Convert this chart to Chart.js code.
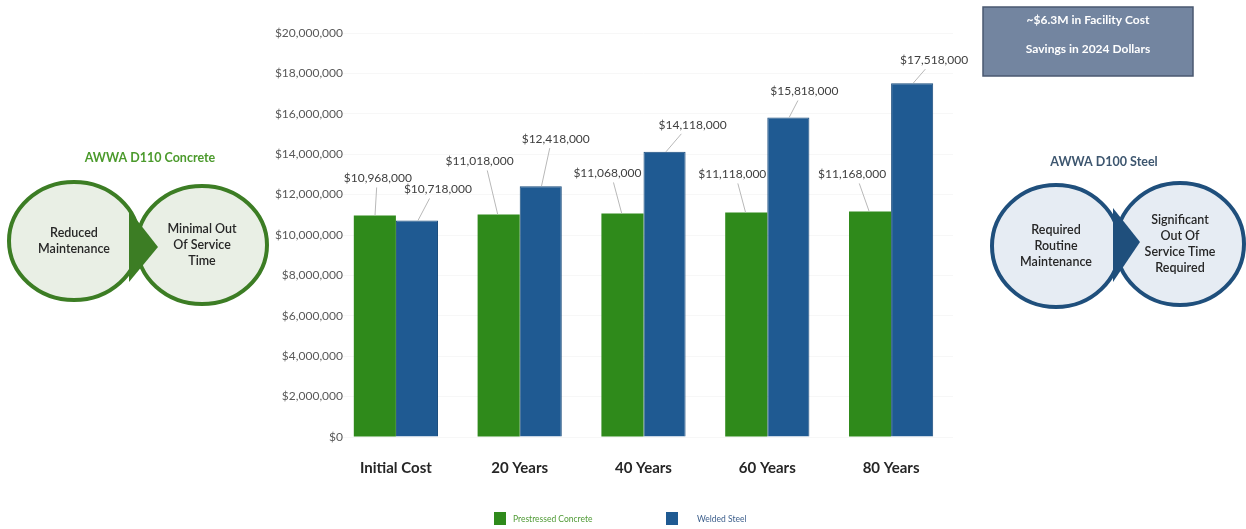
<!DOCTYPE html>
<html>
<head>
<meta charset="utf-8">
<script src="https://cdn.jsdelivr.net/npm/chart.js@4/dist/chart.umd.min.js"></script>
<style>
  html, body { margin: 0; padding: 0; background: #fff; }
  #wrap { width: 1246px; height: 529px; position: relative; }
</style>
</head>
<body>
<div id="wrap"><canvas id="costChart" width="1246" height="529"></canvas></div>
<script>
// chart data
var categories = ['Initial Cost', '20 Years', '40 Years', '60 Years', '80 Years'];
var seriesNames = ['Prestressed Concrete', 'Welded Steel'];
var concreteCost = [10968000, 11018000, 11068000, 11118000, 11168000];
var steelCost = [10718000, 12418000, 14118000, 15818000, 17518000];
var yMax = 20000000;
var yStep = 2000000;

// text around the chart
var savingsNote = ['~$6.3M in Facility Cost', 'Savings in 2024 Dollars'];
var concreteTitle = 'AWWA D110 Concrete';
var concreteBubbles = [['Reduced', 'Maintenance'], ['Minimal Out', 'Of Service', 'Time']];
var steelTitle = 'AWWA D100 Steel';
var steelBubbles = [['Required', 'Routine', 'Maintenance'], ['Significant', 'Out Of', 'Service Time', 'Required']];

// where each value label sits relative to the top of its bar (px)
var concreteLabelShift = [[3, -37], [-19, -53], [-15, -40], [-14, -38], [-18, -37]];
var steelLabelShift = [[21, -31], [15, -47], [28, -27], [16, -26], [22, -23]];

var GREEN = '#2f8a1b';
var BLUE = '#1f5a92';
var FONT = 'Lato, "Open Sans", sans-serif';

function money(v) {
    return '$' + Number(v).toLocaleString('en-US');
}

function drawBubbles(ctx, cfg) {
    ctx.save();
    cfg.centers.forEach(function (c, i) {
        ctx.beginPath();
        ctx.ellipse(c[0], c[1], cfg.rx, cfg.ry, 0, 0, Math.PI * 2);
        ctx.fillStyle = cfg.fill;
        ctx.fill();
        ctx.lineWidth = 4;
        ctx.strokeStyle = cfg.stroke;
        ctx.stroke();
    });
    // wedge between the two circles
    ctx.beginPath();
    ctx.moveTo(cfg.wedge[0][0], cfg.wedge[0][1]);
    ctx.lineTo(cfg.wedge[1][0], cfg.wedge[1][1]);
    ctx.lineTo(cfg.wedge[2][0], cfg.wedge[2][1]);
    ctx.closePath();
    ctx.fillStyle = cfg.stroke;
    ctx.fill();

    ctx.fillStyle = '#262626';
    ctx.font = '600 12.5px ' + FONT;
    ctx.textAlign = 'center';
    ctx.textBaseline = 'middle';
    cfg.texts.forEach(function (lines, i) {
        var c = cfg.centers[i];
        var y0 = c[1] - (lines.length - 1) * 8;
        lines.forEach(function (t, j) {
            ctx.fillText(t, c[0], y0 + j * 16);
        });
    });

    ctx.fillStyle = cfg.titleColor;
    ctx.font = 'bold 12.5px ' + FONT;
    ctx.fillText(cfg.title, cfg.titlePos[0], cfg.titlePos[1]);
    ctx.restore();
}

var decorPlugin = {
    id: 'decor',
    afterDatasetsDraw: function (chart) {
        var ctx = chart.ctx;
        ctx.save();
        ctx.font = '12px ' + FONT;
        ctx.textAlign = 'center';
        ctx.textBaseline = 'middle';
        var shifts = [concreteLabelShift, steelLabelShift];
        chart.data.datasets.forEach(function (ds, di) {
            var meta = chart.getDatasetMeta(di);
            meta.data.forEach(function (bar, i) {
                var bx = bar.x, by = bar.y;
                var lx = bx + shifts[di][i][0];
                var ly = by + shifts[di][i][1];
                ctx.beginPath();
                ctx.moveTo(lx + (bx - lx) * 0.4, ly + 9);
                ctx.lineTo(bx + (lx - bx) * 0.05, by);
                ctx.strokeStyle = '#b8b8b8';
                ctx.lineWidth = 1;
                ctx.stroke();
                ctx.fillStyle = '#404040';
                ctx.fillText(money(ds.data[i]), lx, ly);
            });
        });
        ctx.restore();
    },
    afterDraw: function (chart) {
        var ctx = chart.ctx;
        ctx.save();

        // savings box
        ctx.fillStyle = '#7385a0';
        ctx.fillRect(983, 7, 210, 69);
        ctx.strokeStyle = '#4a5870';
        ctx.lineWidth = 1.5;
        ctx.strokeRect(983, 7, 210, 69);
        ctx.fillStyle = '#ffffff';
        ctx.font = 'bold 12px ' + FONT;
        ctx.textAlign = 'center';
        ctx.textBaseline = 'middle';
        ctx.fillText(savingsNote[0], 1088, 20);
        ctx.fillText(savingsNote[1], 1088, 49);

        // legend
        var legendItems = [
            { x: 494, tx: 513, text: '#4f9a35' },
            { x: 666, tx: 697, text: '#3d5f8c' }
        ];
        ctx.textAlign = 'left';
        ctx.font = '8.5px ' + FONT;
        legendItems.forEach(function (it, i) {
            ctx.fillStyle = chart.data.datasets[i].backgroundColor;
            ctx.fillRect(it.x, 512, 12, 13);
            ctx.fillStyle = it.text;
            ctx.fillText(chart.data.datasets[i].label, it.tx, 519);
        });
        ctx.restore();

        drawBubbles(ctx, {
            centers: [[74, 241], [202, 245]],
            rx: 65, ry: 59,
            fill: '#e9efe5', stroke: '#3c7d24',
            wedge: [[129, 210], [129, 282], [158, 247]],
            texts: concreteBubbles,
            title: concreteTitle, titleColor: '#4b9a2c', titlePos: [150, 158]
        });
        drawBubbles(ctx, {
            centers: [[1056, 246], [1180, 244]],
            rx: 64, ry: 61,
            fill: '#e6ecf3', stroke: '#1f4f7c',
            wedge: [[1113, 208], [1113, 282], [1140, 242]],
            texts: steelBubbles,
            title: steelTitle, titleColor: '#3d566f', titlePos: [1104, 162]
        });
    }
};

var ctx = document.getElementById('costChart').getContext('2d');
var costChart = new Chart(ctx, {
    type: 'bar',
    data: {
        labels: categories,
        datasets: [{
            label: seriesNames[0],
            data: concreteCost,
            backgroundColor: GREEN,
            borderWidth: 0
        }, {
            label: seriesNames[1],
            data: steelCost,
            backgroundColor: BLUE,
            borderColor: '#1a4c7d',
            borderWidth: 1
        }]
    },
    options: {
        responsive: false,
        animation: false,
        layout: {
            padding: { left: 270, right: 293, top: 33, bottom: 42 }
        },
        categoryPercentage: 0.68,
        barPercentage: 1,
        plugins: {
            legend: { display: false },
            tooltip: { enabled: false }
        },
        scales: {
            x: {
                grid: { display: false, drawTicks: false },
                border: { display: false },
                ticks: {
                    color: '#262626',
                    padding: 22,
                    font: { family: FONT, size: 15, weight: 'bold' }
                },
                afterFit: function (s) { s.height = 50; }
            },
            y: {
                min: 0,
                max: yMax,
                grid: { color: '#f7f7f7', drawTicks: false },
                border: { display: false },
                ticks: {
                    stepSize: yStep,
                    padding: -9,
                    color: '#595959',
                    font: { family: FONT, size: 12 },
                    callback: function (v) { return money(v); }
                },
                afterFit: function (s) {
                    s.width = 64;
                    // labels reach a little into the plot, so don't clip them to the axis box
                    s._computeLabelArea = function () {};
                }
            }
        }
    },
    plugins: [decorPlugin]
});
</script>
</body>
</html>
